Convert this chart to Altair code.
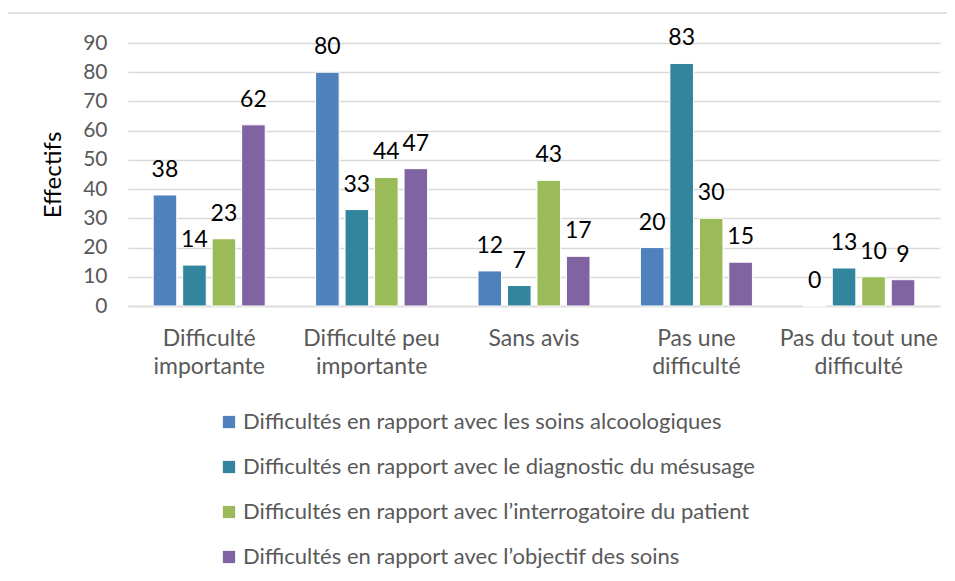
import altair as alt
import pandas as pd

categories = [
    "Difficulté\nimportante",
    "Difficulté peu\nimportante",
    "Sans avis",
    "Pas une\ndifficulté",
    "Pas du tout une\ndifficulté",
]
series = [
    "Difficultés en rapport avec les soins alcoologiques",
    "Difficultés en rapport avec le diagnostic du mésusage",
    "Difficultés en rapport avec l\u2019interrogatoire du patient",
    "Difficultés en rapport avec l\u2019objectif des soins",
]
values_soins = [38, 80, 12, 20, 0]
values_diag = [14, 33, 7, 83, 13]
values_interro = [23, 44, 43, 30, 10]
values_objectif = [62, 47, 17, 15, 9]
colors = ["#4F81BD", "#31859C", "#9BBB59", "#8064A2"]

rows = []
for s, vals in zip(series, [values_soins, values_diag, values_interro, values_objectif]):
    for c, v in zip(categories, vals):
        rows.append({"cat": c, "serie": s, "val": v})
df = pd.DataFrame(rows)

FONT = "Lato"
GRAY = "#595959"

base = alt.Chart(df).encode(
    x=alt.X(
        "cat:N",
        sort=categories,
        scale=alt.Scale(paddingInner=0.31, paddingOuter=0.155),
        axis=alt.Axis(
            title=None,
            labelAngle=0,
            labelExpr="split(datum.label, '\\n')",
            labelFont=FONT,
            labelFontSize=23,
            labelColor=GRAY,
            labelPadding=21,
            labelLineHeight=28,
            labelLimit=300,
            ticks=False,
            domainColor="#d9d9d9",
            domainWidth=1.5,
        ),
    ),
    xOffset=alt.XOffset("serie:N", sort=series, scale=alt.Scale(paddingInner=0.2, paddingOuter=0.0)),
    y=alt.Y(
        "val:Q",
        scale=alt.Scale(domain=[0, 90], nice=False),
        axis=alt.Axis(
            values=list(range(0, 91, 10)),
            title="Effectifs",
            titleFont=FONT,
            titleFontSize=24,
            titleFontWeight="normal",
            titleColor="#000000",
            titlePadding=17,
            labelFont=FONT,
            labelFontSize=21,
            labelColor=GRAY,
            labelPadding=21,
            ticks=False,
            domain=False,
            gridColor="#d9d9d9",
            gridWidth=1.5,
        ),
    ),
)

bars = base.mark_bar(stroke="white", strokeWidth=1).encode(
    color=alt.Color(
        "serie:N",
        sort=series,
        scale=alt.Scale(domain=series, range=colors),
        legend=alt.Legend(
            title=None,
            orient="none",
            legendX=90,
            legendY=368,
            direction="vertical",
            symbolType="square",
            symbolSize=150,
            symbolStrokeWidth=0,
            labelFont=FONT,
            labelFontSize=22,
            labelColor=GRAY,
            labelOffset=3,
            rowPadding=23,
            labelLimit=800,
            padding=0,
        ),
    )
)

labels = base.mark_text(
    font=FONT, fontSize=23, color="#000000", baseline="alphabetic", dy=-18
).encode(text="val:Q")

border = alt.Chart(alt.Data(values=[{"a": 1}])).mark_rect(
    fillOpacity=0, stroke="#d9d9d9", strokeWidth=1.5
).encode(
    x=alt.value(-121), x2=alt.value(900), y=alt.value(-30), y2=alt.value(700)
)

chart = alt.layer(border, bars, labels).properties(
    width=812,
    height=263,
    padding={"left": 120, "top": 35, "right": 7, "bottom": 265},
    autosize=alt.AutoSizeParams(type="none"),
).configure_view(stroke=None)

chart.save("out.html", embed_options={"renderer": "svg", "actions": False})
